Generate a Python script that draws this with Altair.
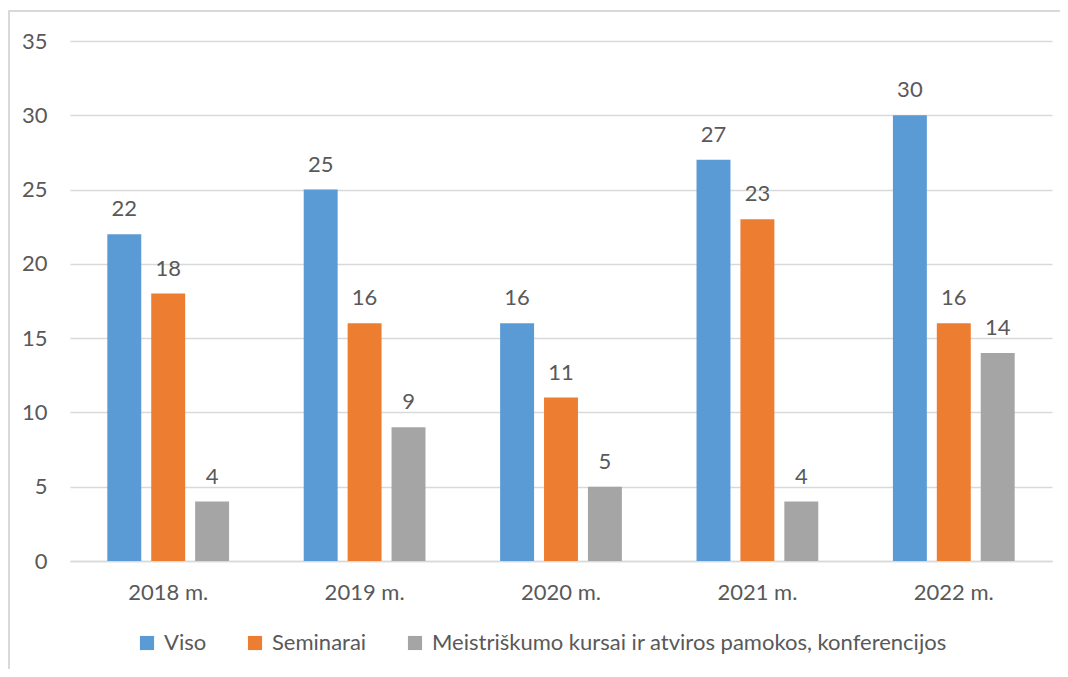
import altair as alt
import pandas as pd

years = ["2018 m.", "2019 m.", "2020 m.", "2021 m.", "2022 m."]
series = ["Viso", "Seminarai", "Meistriškumo kursai ir atviros pamokos, konferencijos"]
viso = [22, 25, 16, 27, 30]
seminarai = [18, 16, 11, 23, 16]
meist = [4, 9, 5, 4, 14]
colors = ["#5B9BD5", "#ED7D31", "#A5A5A5"]

rows = []
for vals, s in zip([viso, seminarai, meist], series):
    for y, v in zip(years, vals):
        rows.append({"year": y, "series": s, "value": v})
df = pd.DataFrame(rows)

FONT = "Lato"
TXT = "#595959"
FS = 22

base = alt.Chart(df).encode(
    x=alt.X("year:N", sort=years, title=None,
            scale=alt.Scale(paddingInner=0.38, paddingOuter=0.19),
            axis=alt.Axis(labelAngle=0, labelFontSize=FS, labelFont=FONT, labelColor=TXT,
                          labelPadding=21, ticks=False, domainColor="#D9D9D9", domainWidth=1.5)),
    xOffset=alt.XOffset("series:N", sort=series, scale=alt.Scale(paddingInner=0.227)),
)

bars = base.mark_bar().encode(
    y=alt.Y("value:Q", title=None,
            scale=alt.Scale(domain=[0, 35]),
            axis=alt.Axis(values=[0, 5, 10, 15, 20, 25, 30, 35], domain=False, ticks=False,
                          labelFontSize=FS, labelFont=FONT, labelColor=TXT, labelPadding=23,
                          gridColor="#D9D9D9", gridWidth=1.5)),
    color=alt.Color("series:N", sort=series, scale=alt.Scale(domain=series, range=colors),
                    legend=alt.Legend(title=None, orient="none", legendX=66, legendY=591,
                                      direction="horizontal", symbolType="square",
                                      symbolSize=200, symbolStrokeWidth=0, labelFontSize=FS,
                                      labelFont=FONT, labelColor=TXT, columnPadding=37,
                                      padding=0, symbolOffset=0, labelOffset=6, labelLimit=800)),
)

labels = base.mark_text(baseline="alphabetic", dy=-18, fontSize=FS, font=FONT, color=TXT).encode(
    y="value:Q",
    text="value:Q",
)

frame = alt.Chart(pd.DataFrame({"a": [0]})).mark_rect(
    fill=None, stroke="#D9D9D9", strokeWidth=2
).encode(
    x=alt.value(-61), x2=alt.value(1100), y=alt.value(-30), y2=alt.value(720)
)

chart = alt.layer(frame, bars, labels).properties(
    width=982, height=520,
    autosize=alt.AutoSizeParams(type="none"),
    padding={"left": 62, "top": 33, "right": 8, "bottom": 108},
    background="white",
).configure_view(stroke=None)

chart.save("out.html", embed_options={"renderer": "svg", "actions": False})
